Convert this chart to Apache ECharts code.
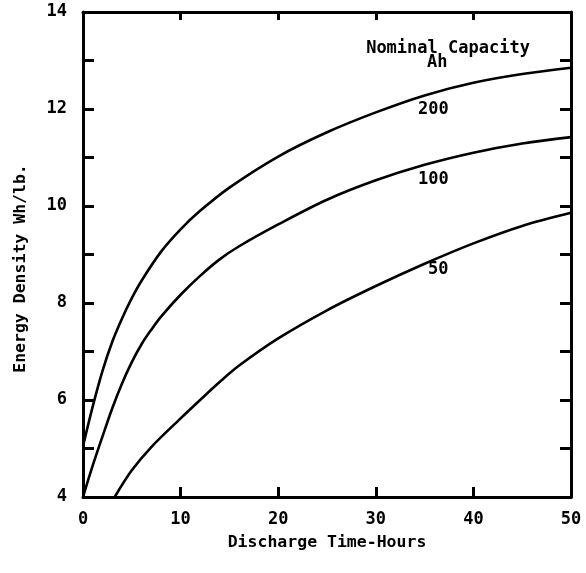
<!DOCTYPE html>
<html>
<head>
<meta charset="utf-8">
<script src="https://cdn.jsdelivr.net/npm/echarts@6/dist/echarts.min.js"></script>
<style>
  html, body { margin: 0; padding: 0; background: #fff; }
  #chart { width: 586px; height: 573px; }
</style>
</head>
<body>
<div id="chart"></div>
<script>
// curves: [hours, Wh/lb]
const cap200 = [[0, 5.05], [1, 5.87], [2, 6.6], [3, 7.2], [4, 7.68], [5, 8.1], [6, 8.46], [8, 9.06],
  [10, 9.52], [12, 9.9], [15, 10.38], [20, 11.02], [25, 11.52], [30, 11.93], [35, 12.28],
  [40, 12.54], [45, 12.72], [50, 12.85]];
const cap100 = [[0, 4], [1, 4.65], [2, 5.25], [3, 5.83], [4, 6.34], [5, 6.78], [6, 7.15], [7, 7.45],
  [8, 7.72], [10, 8.17], [12, 8.56], [14, 8.9], [16, 9.17], [20, 9.62], [25, 10.13], [30, 10.53],
  [35, 10.85], [40, 11.1], [45, 11.29], [50, 11.42]];
const cap50 = [[3.25, 4], [5, 4.55], [7, 5.03], [10, 5.62], [12, 6.0], [14, 6.37], [16, 6.71], [20, 7.27],
  [25, 7.85], [30, 8.35], [35, 8.81], [40, 9.23], [45, 9.59], [50, 9.86]];

// curve labels placed in data space
const curveLabels = [
  { name: 'Nominal Capacity', value: [37.4, 13.24] },
  { name: 'Ah', value: [36.3, 12.95] },
  { name: '200', value: [35.9, 11.98] },
  { name: '100', value: [35.9, 10.54] },
  { name: '50', value: [36.4, 8.68] }
];

const xTitle = 'Discharge Time-Hours';
const yTitle = 'Energy Density Wh/lb.';

const font = 'DejaVu Sans Mono';
const ink = '#000';

const myChart = echarts.init(document.getElementById('chart'));

const curve = (name, data) => ({
  name: name,
  type: 'line',
  data: data,
  smooth: 0.35,
  showSymbol: false,
  symbol: 'none',
  lineStyle: { color: ink, width: 2.6 },
  silent: true
});

// frame line shared by all four axes
const frameLine = { onZero: false, lineStyle: { color: ink, width: 3 } };

const option = {
  animation: false,
  backgroundColor: '#fff',
  grid: { left: 83, right: 15, top: 12, bottom: 76 },
  xAxis: [{
    type: 'value', min: 0, max: 50, interval: 10, position: 'bottom',
    name: xTitle, nameLocation: 'middle', nameGap: 37,
    nameTextStyle: { fontFamily: font, fontWeight: 'bold', fontSize: 16.5, color: ink },
    axisLine: frameLine,
    axisTick: { inside: true, length: 10, lineStyle: { color: ink, width: 3 } },
    axisLabel: { margin: 14, fontFamily: font, fontWeight: 'bold', fontSize: 17, color: ink },
    splitLine: { show: false }
  }, {
    type: 'value', min: 0, max: 50, interval: 10, position: 'top',
    axisLine: frameLine,
    axisTick: { inside: true, length: 8, lineStyle: { color: ink, width: 3 } },
    axisLabel: { show: false },
    splitLine: { show: false }
  }],
  yAxis: [{
    type: 'value', min: 4, max: 14, interval: 1, position: 'left',
    name: yTitle, nameLocation: 'middle', nameGap: 54, nameRotate: 90,
    nameTextStyle: {
      fontFamily: font, fontWeight: 'bold', fontSize: 16.5, color: ink,
      padding: [0, 28, 0, 0]
    },
    axisLine: frameLine,
    axisTick: { inside: true, length: 11, lineStyle: { color: ink, width: 3 } },
    axisLabel: {
      margin: 16, fontFamily: font, fontWeight: 'bold', fontSize: 17, color: ink,
      formatter: v => (v % 2 === 0 ? String(v) : '')
    },
    splitLine: { show: false }
  }, {
    type: 'value', min: 4, max: 14, interval: 1, position: 'right',
    axisLine: frameLine,
    axisTick: { inside: true, length: 11, lineStyle: { color: ink, width: 3 } },
    axisLabel: { show: false },
    splitLine: { show: false }
  }],
  series: [
    curve('200', cap200),
    curve('100', cap100),
    curve('50', cap50),
    {
      type: 'scatter',
      data: curveLabels,
      symbolSize: 0,
      silent: true,
      itemStyle: { opacity: 1 },
      label: {
        show: true, position: 'inside', formatter: '{b}',
        fontFamily: font, fontWeight: 'bold', fontSize: 17, color: ink,
        textBorderWidth: 0
      }
    }
  ]
};

myChart.setOption(option);
</script>
</body>
</html>
